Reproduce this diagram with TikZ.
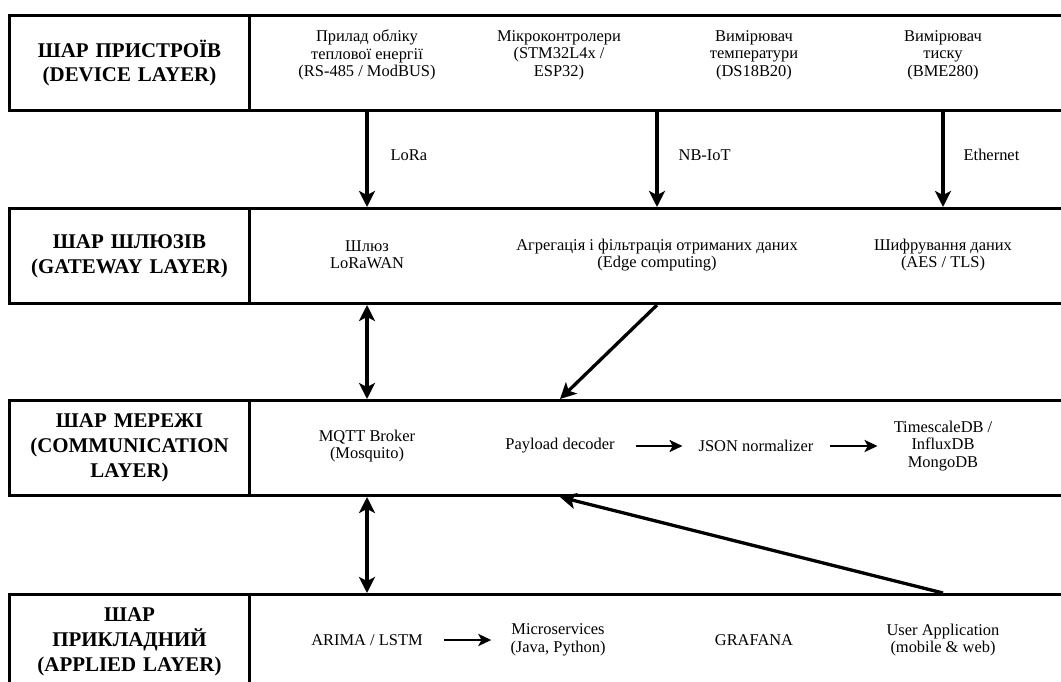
\documentclass[tikz,border=0pt]{standalone}
\usepackage{fontspec}
\setmainfont{Liberation Serif}
\usetikzlibrary{arrows.meta,calc}
\tikzset{
  cell/.style={draw, line width=3bp, minimum height=95bp, inner sep=0pt, anchor=north west},
  ttl/.style={cell, minimum width=240bp, text width=236bp, align=center,
              font=\fontsize{21}{25}\selectfont\bfseries},
  bodycell/.style={cell, minimum width=830bp},
  txt/.style={align=center, font=\fontsize{16.5}{17.5}\selectfont, inner sep=1bp},
  lbl/.style={font=\fontsize{16.5}{17.5}\selectfont, anchor=west, inner sep=0pt},
  tipbig/.tip={Stealth[length=16bp,width=16bp,inset=4bp]},
  arr/.style={line width=3.3bp, -tipbig},
  darr/.style={line width=3.3bp, tipbig-tipbig},
  harr/.style={line width=2.8bp, -{Stealth[length=13bp,width=12bp,inset=3.2bp]}},
}
\begin{document}
\begin{tikzpicture}[x=1bp,y=-1bp]
\useasboundingbox (0,0) rectangle (1061,682);
\fill[white] (0,0) rectangle (1061,682);
\clip (0,0) rectangle (1061,682);

% ---- layer rows ----
\node[ttl] (L1t) at (8,14) {ШАР ПРИСТРОЇВ\\(DEVICE LAYER)};
\node[bodycell] (L1b) at (248,14) {};
\node[ttl] (L2t) at (8,207) {ШАР ШЛЮЗІВ\\(GATEWAY LAYER)};
\node[bodycell] (L2b) at (248,207) {};
\node[ttl] (L3t) at (8,399) {ШАР МЕРЕЖІ\\(COMMUNICATION\\LAYER)};
\node[bodycell] (L3b) at (248,399) {};
\node[ttl] (L4t) at (8,593) {ШАР\\ПРИКЛАДНИЙ\\(APPLIED LAYER)};
\node[bodycell] (L4b) at (248,593) {};

% ---- device layer ----
\node[txt] (dev1) at (367,55) {Прилад обліку\\теплової енергії\\(RS-485 / ModBUS)};
\node[txt] (dev2) at (559,55) {Мікроконтролери\\(STM32L4x /\\ESP32)};
\node[txt] (dev3) at (754,55) {Вимірювач\\температури\\(DS18B20)};
\node[txt] (dev4) at (943,55) {Вимірювач\\тиску\\(BME280)};

% ---- gateway layer ----
\node[txt] (gw1) at (367,255) {Шлюз\\LoRaWAN};
\node[txt] (agg) at (657,255) {Агрегація і фільтрація отриманих даних\\(Edge computing)};
\node[txt] (enc) at (943,255) {Шифрування даних\\(AES / TLS)};

% ---- communication layer ----
\node[txt] (mqtt) at (367,446) {MQTT Broker\\(Mosquito)};
\node[txt] (pay) at (560,446) {Payload decoder};
\node[txt] (json) at (756,446) {JSON normalizer};
\node[txt] (db) at (943,446) {TimescaleDB /\\InfluxDB\\MongoDB};

% ---- applied layer ----
\node[txt] (arima) at (367,640) {ARIMA / LSTM};
\node[txt] (micro) at (558,640) {Microservices\\(Java, Python)};
\node[txt] (graf) at (754,640) {GRAFANA};
\node[txt] (user) at (943,640) {User Application\\(mobile \& web)};

% ---- connectors ----
\draw[arr] (dev1 |- L1b.south) -- node[lbl, pos=0.45, xshift=22bp] (lora) {LoRa} (dev1 |- L2b.north);
\draw[arr] (agg |- L1b.south) -- node[lbl, pos=0.45, xshift=20bp] (nbiot) {NB-IoT} (agg |- L2b.north);
\draw[arr] (dev4 |- L1b.south) -- node[lbl, pos=0.45, xshift=19bp] (eth) {Ethernet} (dev4 |- L2b.north);

\draw[darr] (gw1 |- L2b.south) -- (mqtt |- L3b.north);
\draw[darr] (mqtt |- L3b.south) -- (arima |- L4b.north);

\draw[arr] (agg |- L2b.south) -- (pay |- L3b.north);
\draw[arr] (user |- L4b.north) -- (pay |- L3b.south);

\draw[harr, shorten <=20bp, shorten >=15bp] (pay) -- (json);
\draw[harr, shorten <=15bp, shorten >=15bp] (json) -- (json -| db.west);
\draw[harr, shorten <=20bp, shorten >=18bp] (arima) -- (micro);
\end{tikzpicture}
\end{document}
